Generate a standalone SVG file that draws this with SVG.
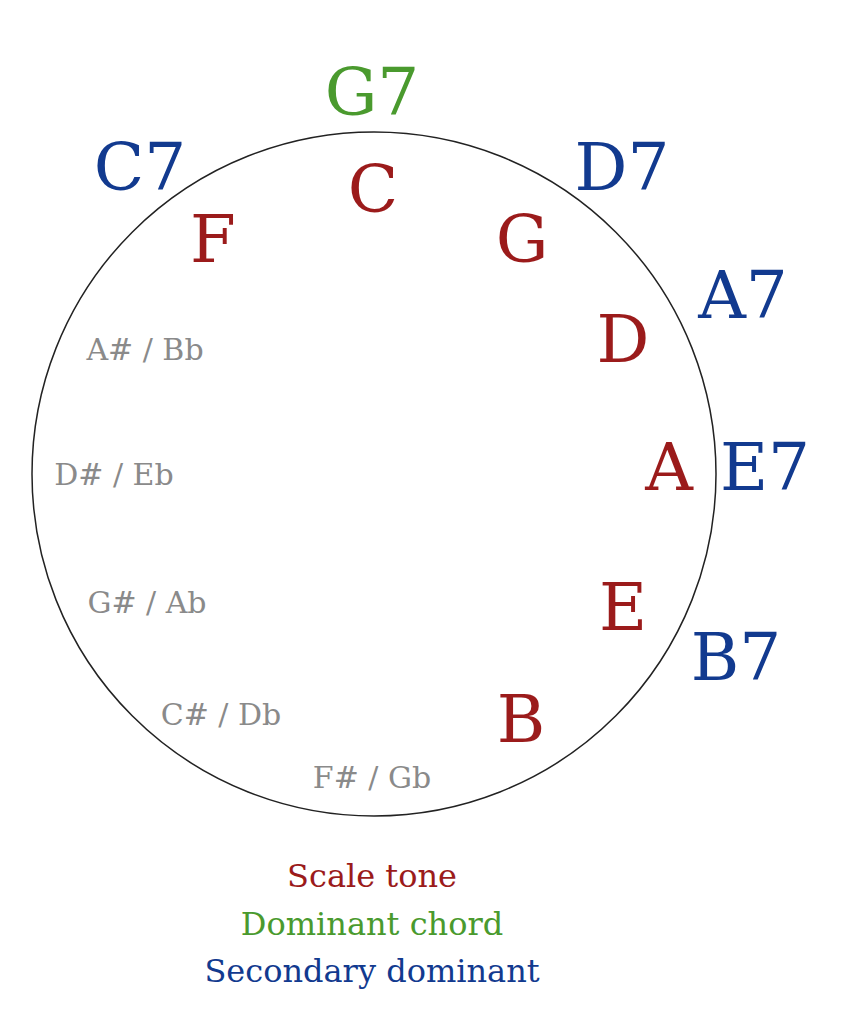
<svg xmlns="http://www.w3.org/2000/svg" width="844" height="1024" viewBox="0 0 844 1024">
<style>
text{font-family:"DejaVu Serif","Liberation Serif",serif}
.r{fill:#9b1b1b;font-size:66px}
.b{fill:#123a8f;font-size:66px}
.g{fill:#4a9a2e;font-size:66px}
.s{fill:#8a8a8a;font-size:30px}
.l{font-size:32px;text-anchor:middle}
</style>
<rect width="844" height="1024" fill="#fff"/>
<g id="connectors"></g>
<g id="circle"><circle cx="374" cy="474" r="342" fill="none" stroke="#222" stroke-width="1.5"/></g>
<g id="dominant"><text class="g" x="372" y="115" text-anchor="middle">G7</text></g>
<g id="secondary">
<text class="b" x="140" y="190" text-anchor="middle">C7</text>
<text class="b" x="622" y="190" text-anchor="middle">D7</text>
<text class="b" x="743" y="318" text-anchor="middle">A7</text>
<text class="b" x="765" y="490" text-anchor="middle">E7</text>
<text class="b" x="736" y="680" text-anchor="middle">B7</text>
</g>
<g id="scale">
<text class="r" x="373" y="212" text-anchor="middle">C</text>
<text class="r" x="213" y="262" text-anchor="middle">F</text>
<text class="r" x="522" y="262" text-anchor="middle">G</text>
<text class="r" x="623" y="362" text-anchor="middle">D</text>
<text class="r" x="669" y="490" text-anchor="middle">A</text>
<text class="r" x="623" y="630" text-anchor="middle">E</text>
<text class="r" x="521" y="742" text-anchor="middle">B</text>
</g>
<g id="chromatic">
<text class="s" x="145" y="360" text-anchor="middle">A# / Bb</text>
<text class="s" x="114" y="485" text-anchor="middle">D# / Eb</text>
<text class="s" x="147" y="613" text-anchor="middle">G# / Ab</text>
<text class="s" x="221" y="725" text-anchor="middle">C# / Db</text>
<text class="s" x="372" y="788" text-anchor="middle">F# / Gb</text>
</g>
<g id="legend">
<text class="l" x="372" y="887" fill="#9b1b1b">Scale tone</text>
<text class="l" x="372" y="935" fill="#4a9a2e">Dominant chord</text>
<text class="l" x="372" y="982" fill="#123a8f">Secondary dominant</text>
</g>
</svg>
